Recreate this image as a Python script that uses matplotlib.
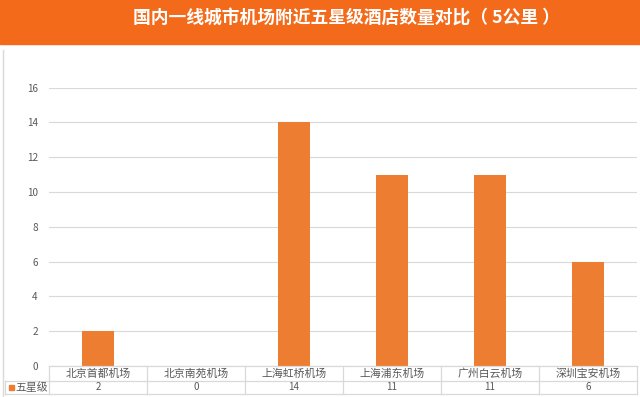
import matplotlib
matplotlib.use("Agg")
import matplotlib.pyplot as plt
from matplotlib.patches import Rectangle
from matplotlib.lines import Line2D
import matplotlib.transforms as mtrans

plt.rcParams['font.family'] = ['Noto Sans CJK SC', 'DejaVu Sans']

title = "国内一线城市机场附近五星级酒店数量对比（ 5公里 ）"
categories = ["北京首都机场", "北京南苑机场", "上海虹桥机场", "上海浦东机场", "广州白云机场", "深圳宝安机场"]
series_name = "五星级"
values = [2, 0, 14, 11, 11, 6]
yticks = [0, 2, 4, 6, 8, 10, 12, 14, 16]

W, H = 640, 397
fig = plt.figure(figsize=(W / 100, H / 100), dpi=100)

def fx(px):
    return px / W

def fy(py):
    return 1 - py / H

# banner
fig.patches.append(Rectangle((0, fy(44)), 1, 44 / H, transform=fig.transFigure,
                             color="#F36A1A", zorder=0))
fig.text(fx(346), fy(19), title, color="white", fontsize=12.8, fontweight="bold",
         ha="center", va="center")

# chart border
fig.add_artist(Line2D([fx(3), fx(3)], [fy(50), fy(397)], color="#D9D9D9", lw=1))

ax_left, ax_right, ax_top, ax_bottom = 49, 637, 87.5, 366
ax = fig.add_axes([fx(ax_left), fy(ax_bottom), (ax_right - ax_left) / W, (ax_bottom - ax_top) / H])
x = list(range(len(categories)))
ax.bar(x, values, width=0.32, color="#ED7D31", zorder=3)
ax.set_xlim(-0.5, len(categories) - 0.5)
ax.set_ylim(0, 16)
ax.set_yticks(yticks)
ax.set_yticklabels([str(t) for t in yticks], fontsize=7.2, color="#595959")
ax.tick_params(axis="y", length=0, pad=8)
ax.set_xticks([])
ax.grid(axis="y", color="#D9D9D9", lw=0.8, zorder=0)
for s in ax.spines.values():
    s.set_visible(False)

# data table below axes
trans = mtrans.blended_transform_factory(ax.transData, fig.transFigure)
line_c = "#D9D9D9"
row1_top, row1_bot, row2_bot = 366, 381, 394
fig.add_artist(Line2D([fx(ax_left), fx(ax_right)], [fy(row1_top)] * 2, color=line_c, lw=0.9))
fig.add_artist(Line2D([fx(5), fx(ax_right)], [fy(row1_bot)] * 2, color=line_c, lw=0.9))
fig.add_artist(Line2D([fx(5), fx(ax_right)], [fy(row2_bot)] * 2, color=line_c, lw=0.9))
fig.add_artist(Line2D([fx(5), fx(5)], [fy(row1_bot), fy(row2_bot)], color=line_c, lw=0.9))
for i in range(len(categories) + 1):
    fig.add_artist(Line2D([i - 0.5, i - 0.5], [fy(row1_top), fy(row2_bot)], color=line_c,
                          lw=0.9, transform=trans))
for i, (c, v) in enumerate(zip(categories, values)):
    fig.text(i, fy((row1_top + row1_bot) / 2), c, transform=trans, ha="center", va="center",
             fontsize=7.8, color="#595959")
    fig.text(i, fy((row1_bot + row2_bot) / 2), str(v), transform=trans, ha="center", va="center",
             fontsize=7, color="#595959")
fig.patches.append(Rectangle((fx(9), fy(390)), 5 / W, 5 / H, transform=fig.transFigure,
                             color="#ED7D31"))
fig.text(fx(15), fy((row1_bot + row2_bot) / 2), series_name, ha="left", va="center",
         fontsize=7.8, color="#595959")

fig.savefig("out.png", dpi=100)
